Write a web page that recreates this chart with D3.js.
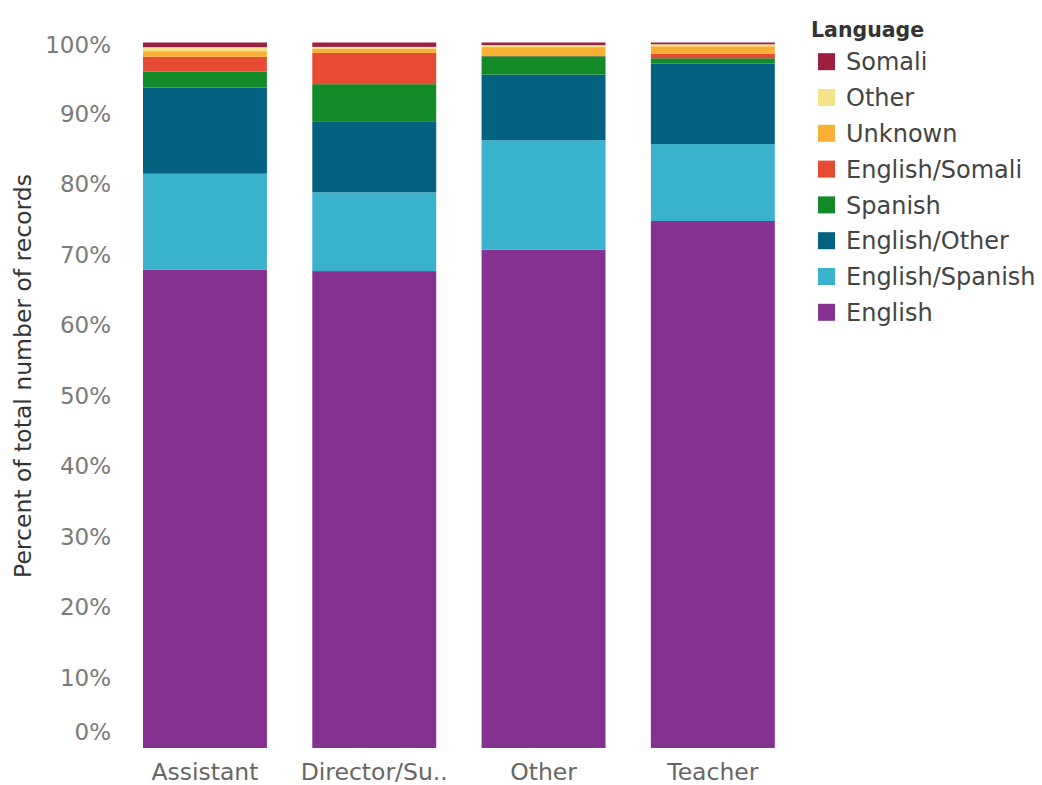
<!DOCTYPE html>
<html>
<head>
<meta charset="utf-8">
<script src="https://cdn.jsdelivr.net/npm/d3@7"></script>
<style>
  html, body { margin: 0; padding: 0; background: #fff; }
  svg { display: block; }
</style>
</head>
<body>
<div id="chart"></div>
<script>
// ---- Data ----
const categories = ["Assistant", "Director/Su..", "Other", "Teacher"];
// stacking order bottom -> top
const languages = ["English", "English/Spanish", "English/Other", "Spanish", "English/Somali", "Unknown", "Other", "Somali"];
const colors = ["#85318f", "#3bb2cc", "#03627f", "#128a2a", "#e84b34", "#f7b033", "#f5e38a", "#9a1f41"];
// percent of records per category (one array per language)
const english        = [67.8, 67.6, 70.65, 74.7];
const englishSpanish = [13.6, 11.15, 15.5, 10.9];
const englishOther   = [12.2, 10.0, 9.3, 11.4];
const spanish        = [2.27, 5.34, 2.6, 0.77];
const englishSomali  = [2.1, 4.44, 0.1, 0.61];
const unknown        = [0.8, 0.62, 1.2, 1.09];
const otherLang      = [0.57, 0.23, 0.28, 0.28];
const somali         = [0.67, 0.62, 0.38, 0.28];
const yTicks = [0, 10, 20, 30, 40, 50, 60, 70, 80, 90, 100];
const legendOrder = ["Somali", "Other", "Unknown", "English/Somali", "Spanish", "English/Other", "English/Spanish", "English"];

const seriesValues = [english, englishSpanish, englishOther, spanish, englishSomali, unknown, otherLang, somali];
const rows = categories.map((c, i) => {
  const r = { category: c };
  languages.forEach((l, j) => r[l] = seriesValues[j][i]);
  return r;
});

// ---- Layout ----
const W = 1042, H = 785;
const FONT = "'DejaVu Sans', 'Open Sans', sans-serif";
const svg = d3.select("#chart").append("svg").attr("width", W).attr("height", H);

const x = d3.scaleBand().domain(categories).range([120.3, 797.5]).paddingInner(0.268).paddingOuter(0.134);
const y = d3.scaleLinear().domain([0, 100]).range([748, 42.5]);
const color = d3.scaleOrdinal().domain(languages).range(colors);

const stack = d3.stack().keys(languages);
const series = stack(rows);

svg.append("g").selectAll("g").data(series).join("g")
  .attr("fill", d => color(d.key))
  .selectAll("rect").data(d => d).join("rect")
  .attr("x", d => x(d.data.category))
  .attr("width", x.bandwidth())
  .attr("y", d => y(Math.min(100, d[1])))
  .attr("height", d => y(d[0]) - y(Math.min(100, d[1])));

// ---- Y axis ----
const yAxis = d3.axisLeft(y).tickValues(yTicks).tickFormat(d => d + "%").tickSize(0).tickPadding(0);
const gy = svg.append("g").attr("transform", "translate(111,0)").call(yAxis);
gy.select(".domain").remove();
gy.selectAll("text")
  .attr("font-family", FONT)
  .attr("font-size", 23)
  .attr("fill", "#7a7a7a")
  .attr("dy", d => d === 0 ? "-0.38em" : d === 100 ? "0.45em" : "0.35em");

// y axis title
svg.append("text")
  .attr("transform", "translate(31,376) rotate(-90)")
  .attr("text-anchor", "middle")
  .attr("font-family", FONT)
  .attr("font-size", 23.5)
  .attr("fill", "#333")
  .text("Percent of total number of records");

// ---- X axis ----
const xAxis = d3.axisBottom(x).tickSize(0).tickPadding(0);
const gx = svg.append("g").attr("transform", "translate(0,780)").call(xAxis);
gx.select(".domain").remove();
gx.selectAll("text")
  .attr("font-family", FONT)
  .attr("font-size", 23.5)
  .attr("fill", "#666")
  .attr("y", 0)
  .attr("dy", "0");

// ---- Legend ----
const legend = svg.append("g");
legend.append("text")
  .attr("x", 811).attr("y", 37)
  .attr("font-family", FONT)
  .attr("font-size", 20.5)
  .attr("font-weight", "bold")
  .attr("fill", "#333")
  .text("Language");
const items = legend.selectAll("g.item").data(legendOrder).join("g")
  .attr("class", "item")
  .attr("transform", (d, i) => `translate(0,${61.7 + i * 35.8})`);
items.append("rect")
  .attr("x", 818).attr("y", -8.5).attr("width", 17).attr("height", 17)
  .attr("fill", d => color(d));
items.append("text")
  .attr("x", 846).attr("y", 0).attr("dy", "0.36em")
  .attr("font-family", FONT)
  .attr("font-size", 24)
  .attr("fill", "#444")
  .text(d => d);
</script>
</body>
</html>
